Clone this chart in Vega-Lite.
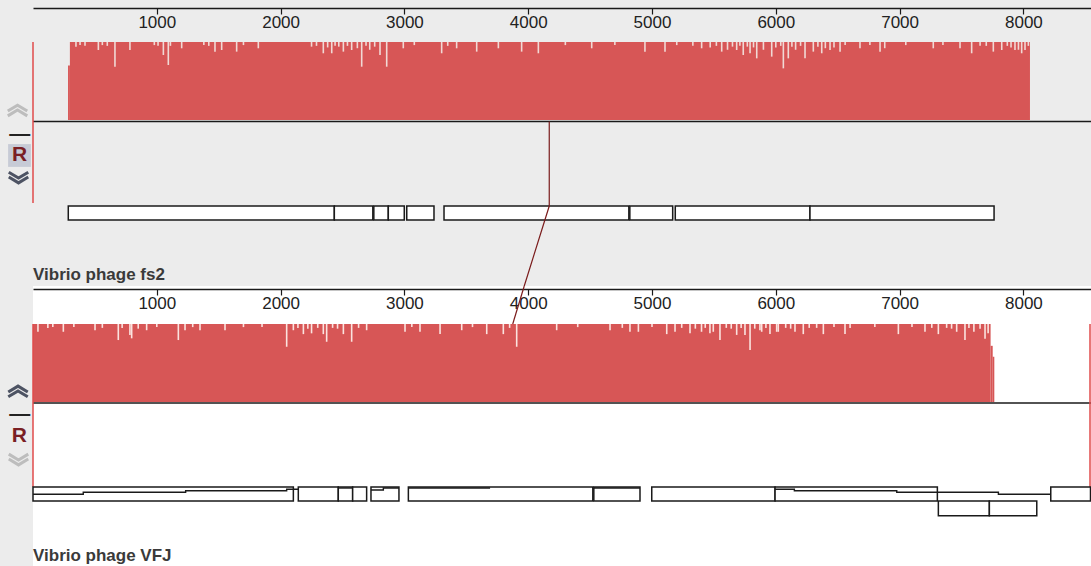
{
  "$schema": "https://vega.github.io/schema/vega-lite/v6.json",
  "padding": 0,
  "background": "#ececec",
  "spacing": 0,
  "bounds": "flush",
  "config": {"view": {"stroke": null}, "axis": {"grid": false}, "legend": {"disable": true}},
  "datasets": {
    "tracks": [
      {"genome": "fs2", "name": "Vibrio phage fs2", "origin": 0, "top": 1, "base": 0, "centre": -0.02, "fwdTop": -1.103, "fwdBottom": -1.282, "revBottom": -1.461, "lcbBottom": -1.064, "label": -2.05},
      {"genome": "VFJ", "name": "Vibrio phage VFJ", "origin": 0, "top": 1, "base": 0, "centre": -0.013, "fwdTop": -1.09, "fwdBottom": -1.269, "revBottom": -1.458, "lcbBottom": -1.09, "label": -2.04}
    ],
    "strip": [{"region": "controls", "from": -266.5, "to": 0}],
    "profile": [
      {"genome": "fs2", "start": 283, "end": 298, "sim": 0.70},
      {"genome": "fs2", "start": 298, "end": 8053, "sim": 1.0},
      {"genome": "VFJ", "start": 0, "end": 7735, "sim": 1.0},
      {"genome": "VFJ", "start": 7735, "end": 7752, "sim": 0.72},
      {"genome": "VFJ", "start": 7752, "end": 7765, "sim": 0.58}
    ],
    "dips": [
      {"genome": "fs2", "pos": 347, "sim": 0.94}, {"genome": "fs2", "pos": 380, "sim": 0.96},
      {"genome": "fs2", "pos": 420, "sim": 0.95}, {"genome": "fs2", "pos": 528, "sim": 0.897},
      {"genome": "fs2", "pos": 560, "sim": 0.96}, {"genome": "fs2", "pos": 600, "sim": 0.95},
      {"genome": "fs2", "pos": 662, "sim": 0.683}, {"genome": "fs2", "pos": 783, "sim": 0.897},
      {"genome": "fs2", "pos": 980, "sim": 0.96}, {"genome": "fs2", "pos": 1010, "sim": 0.95},
      {"genome": "fs2", "pos": 1053, "sim": 0.833}, {"genome": "fs2", "pos": 1093, "sim": 0.705},
      {"genome": "fs2", "pos": 1110, "sim": 0.95}, {"genome": "fs2", "pos": 1201, "sim": 0.919},
      {"genome": "fs2", "pos": 1380, "sim": 0.96}, {"genome": "fs2", "pos": 1420, "sim": 0.95},
      {"genome": "fs2", "pos": 1470, "sim": 0.876}, {"genome": "fs2", "pos": 1524, "sim": 0.897},
      {"genome": "fs2", "pos": 1645, "sim": 0.876}, {"genome": "fs2", "pos": 1700, "sim": 0.96},
      {"genome": "fs2", "pos": 1820, "sim": 0.919}, {"genome": "fs2", "pos": 2250, "sim": 0.94},
      {"genome": "fs2", "pos": 2290, "sim": 0.95}, {"genome": "fs2", "pos": 2345, "sim": 0.855},
      {"genome": "fs2", "pos": 2380, "sim": 0.93}, {"genome": "fs2", "pos": 2413, "sim": 0.855},
      {"genome": "fs2", "pos": 2440, "sim": 0.95}, {"genome": "fs2", "pos": 2470, "sim": 0.94},
      {"genome": "fs2", "pos": 2507, "sim": 0.876}, {"genome": "fs2", "pos": 2540, "sim": 0.95},
      {"genome": "fs2", "pos": 2574, "sim": 0.897}, {"genome": "fs2", "pos": 2620, "sim": 0.92},
      {"genome": "fs2", "pos": 2655, "sim": 0.683}, {"genome": "fs2", "pos": 2690, "sim": 0.95},
      {"genome": "fs2", "pos": 2720, "sim": 0.90}, {"genome": "fs2", "pos": 2760, "sim": 0.94},
      {"genome": "fs2", "pos": 2803, "sim": 0.833}, {"genome": "fs2", "pos": 2857, "sim": 0.683},
      {"genome": "fs2", "pos": 2991, "sim": 0.919}, {"genome": "fs2", "pos": 3080, "sim": 0.96},
      {"genome": "fs2", "pos": 3301, "sim": 0.855}, {"genome": "fs2", "pos": 3350, "sim": 0.95},
      {"genome": "fs2", "pos": 3422, "sim": 0.919}, {"genome": "fs2", "pos": 3584, "sim": 0.876},
      {"genome": "fs2", "pos": 3759, "sim": 0.919}, {"genome": "fs2", "pos": 3947, "sim": 0.876},
      {"genome": "fs2", "pos": 4082, "sim": 0.855}, {"genome": "fs2", "pos": 4300, "sim": 0.96},
      {"genome": "fs2", "pos": 4513, "sim": 0.919}, {"genome": "fs2", "pos": 4700, "sim": 0.96},
      {"genome": "fs2", "pos": 4943, "sim": 0.876}, {"genome": "fs2", "pos": 5105, "sim": 0.876},
      {"genome": "fs2", "pos": 5200, "sim": 0.96}, {"genome": "fs2", "pos": 5330, "sim": 0.95},
      {"genome": "fs2", "pos": 5401, "sim": 0.919}, {"genome": "fs2", "pos": 5470, "sim": 0.93},
      {"genome": "fs2", "pos": 5520, "sim": 0.95}, {"genome": "fs2", "pos": 5563, "sim": 0.876},
      {"genome": "fs2", "pos": 5610, "sim": 0.90}, {"genome": "fs2", "pos": 5650, "sim": 0.94},
      {"genome": "fs2", "pos": 5684, "sim": 0.897}, {"genome": "fs2", "pos": 5710, "sim": 0.95},
      {"genome": "fs2", "pos": 5737, "sim": 0.833}, {"genome": "fs2", "pos": 5770, "sim": 0.94},
      {"genome": "fs2", "pos": 5792, "sim": 0.855}, {"genome": "fs2", "pos": 5820, "sim": 0.93},
      {"genome": "fs2", "pos": 5846, "sim": 0.79}, {"genome": "fs2", "pos": 5900, "sim": 0.90},
      {"genome": "fs2", "pos": 5967, "sim": 0.812}, {"genome": "fs2", "pos": 6000, "sim": 0.93},
      {"genome": "fs2", "pos": 6040, "sim": 0.95}, {"genome": "fs2", "pos": 6061, "sim": 0.662},
      {"genome": "fs2", "pos": 6101, "sim": 0.79}, {"genome": "fs2", "pos": 6130, "sim": 0.94},
      {"genome": "fs2", "pos": 6160, "sim": 0.90}, {"genome": "fs2", "pos": 6200, "sim": 0.95},
      {"genome": "fs2", "pos": 6236, "sim": 0.79}, {"genome": "fs2", "pos": 6303, "sim": 0.876},
      {"genome": "fs2", "pos": 6340, "sim": 0.94}, {"genome": "fs2", "pos": 6371, "sim": 0.855},
      {"genome": "fs2", "pos": 6400, "sim": 0.92}, {"genome": "fs2", "pos": 6438, "sim": 0.897},
      {"genome": "fs2", "pos": 6470, "sim": 0.93}, {"genome": "fs2", "pos": 6519, "sim": 0.876},
      {"genome": "fs2", "pos": 6560, "sim": 0.96}, {"genome": "fs2", "pos": 6680, "sim": 0.919},
      {"genome": "fs2", "pos": 6760, "sim": 0.96}, {"genome": "fs2", "pos": 6842, "sim": 0.876},
      {"genome": "fs2", "pos": 6880, "sim": 0.92}, {"genome": "fs2", "pos": 7050, "sim": 0.96},
      {"genome": "fs2", "pos": 7272, "sim": 0.919}, {"genome": "fs2", "pos": 7350, "sim": 0.96},
      {"genome": "fs2", "pos": 7488, "sim": 0.919}, {"genome": "fs2", "pos": 7582, "sim": 0.855},
      {"genome": "fs2", "pos": 7650, "sim": 0.95}, {"genome": "fs2", "pos": 7700, "sim": 0.95},
      {"genome": "fs2", "pos": 7757, "sim": 0.876}, {"genome": "fs2", "pos": 7825, "sim": 0.897},
      {"genome": "fs2", "pos": 7870, "sim": 0.95}, {"genome": "fs2", "pos": 7900, "sim": 0.93},
      {"genome": "fs2", "pos": 7932, "sim": 0.897}, {"genome": "fs2", "pos": 7960, "sim": 0.90},
      {"genome": "fs2", "pos": 7986, "sim": 0.855}, {"genome": "fs2", "pos": 8013, "sim": 0.897},
      {"genome": "fs2", "pos": 8040, "sim": 0.95},
      {"genome": "VFJ", "pos": 40, "sim": 0.90}, {"genome": "VFJ", "pos": 120, "sim": 0.95},
      {"genome": "VFJ", "pos": 160, "sim": 0.96}, {"genome": "VFJ", "pos": 245, "sim": 0.90},
      {"genome": "VFJ", "pos": 330, "sim": 0.96}, {"genome": "VFJ", "pos": 501, "sim": 0.92},
      {"genome": "VFJ", "pos": 560, "sim": 0.95}, {"genome": "VFJ", "pos": 689, "sim": 0.794},
      {"genome": "VFJ", "pos": 720, "sim": 0.95}, {"genome": "VFJ", "pos": 783, "sim": 0.86},
      {"genome": "VFJ", "pos": 797, "sim": 0.816}, {"genome": "VFJ", "pos": 850, "sim": 0.94},
      {"genome": "VFJ", "pos": 918, "sim": 0.92}, {"genome": "VFJ", "pos": 1000, "sim": 0.96},
      {"genome": "VFJ", "pos": 1174, "sim": 0.794}, {"genome": "VFJ", "pos": 1228, "sim": 0.92},
      {"genome": "VFJ", "pos": 1290, "sim": 0.96}, {"genome": "VFJ", "pos": 1349, "sim": 0.92},
      {"genome": "VFJ", "pos": 1551, "sim": 0.92}, {"genome": "VFJ", "pos": 1700, "sim": 0.96},
      {"genome": "VFJ", "pos": 1850, "sim": 0.96}, {"genome": "VFJ", "pos": 2049, "sim": 0.708},
      {"genome": "VFJ", "pos": 2103, "sim": 0.92}, {"genome": "VFJ", "pos": 2140, "sim": 0.95},
      {"genome": "VFJ", "pos": 2184, "sim": 0.87}, {"genome": "VFJ", "pos": 2220, "sim": 0.94},
      {"genome": "VFJ", "pos": 2250, "sim": 0.88}, {"genome": "VFJ", "pos": 2300, "sim": 0.95},
      {"genome": "VFJ", "pos": 2345, "sim": 0.87}, {"genome": "VFJ", "pos": 2372, "sim": 0.772},
      {"genome": "VFJ", "pos": 2420, "sim": 0.95}, {"genome": "VFJ", "pos": 2460, "sim": 0.94},
      {"genome": "VFJ", "pos": 2507, "sim": 0.87}, {"genome": "VFJ", "pos": 2574, "sim": 0.772},
      {"genome": "VFJ", "pos": 2630, "sim": 0.95}, {"genome": "VFJ", "pos": 2695, "sim": 0.92},
      {"genome": "VFJ", "pos": 3005, "sim": 0.90}, {"genome": "VFJ", "pos": 3060, "sim": 0.96},
      {"genome": "VFJ", "pos": 3126, "sim": 0.90}, {"genome": "VFJ", "pos": 3288, "sim": 0.87},
      {"genome": "VFJ", "pos": 3463, "sim": 0.92}, {"genome": "VFJ", "pos": 3550, "sim": 0.96},
      {"genome": "VFJ", "pos": 3665, "sim": 0.87}, {"genome": "VFJ", "pos": 3799, "sim": 0.87},
      {"genome": "VFJ", "pos": 3850, "sim": 0.95}, {"genome": "VFJ", "pos": 3907, "sim": 0.708},
      {"genome": "VFJ", "pos": 4230, "sim": 0.92}, {"genome": "VFJ", "pos": 4400, "sim": 0.96},
      {"genome": "VFJ", "pos": 4661, "sim": 0.92}, {"genome": "VFJ", "pos": 4760, "sim": 0.95},
      {"genome": "VFJ", "pos": 4822, "sim": 0.90}, {"genome": "VFJ", "pos": 4890, "sim": 0.90},
      {"genome": "VFJ", "pos": 5000, "sim": 0.96}, {"genome": "VFJ", "pos": 5119, "sim": 0.87},
      {"genome": "VFJ", "pos": 5186, "sim": 0.90}, {"genome": "VFJ", "pos": 5240, "sim": 0.95},
      {"genome": "VFJ", "pos": 5307, "sim": 0.88}, {"genome": "VFJ", "pos": 5350, "sim": 0.94},
      {"genome": "VFJ", "pos": 5400, "sim": 0.90}, {"genome": "VFJ", "pos": 5430, "sim": 0.95},
      {"genome": "VFJ", "pos": 5468, "sim": 0.88}, {"genome": "VFJ", "pos": 5495, "sim": 0.90},
      {"genome": "VFJ", "pos": 5549, "sim": 0.794}, {"genome": "VFJ", "pos": 5600, "sim": 0.95},
      {"genome": "VFJ", "pos": 5640, "sim": 0.94}, {"genome": "VFJ", "pos": 5684, "sim": 0.86},
      {"genome": "VFJ", "pos": 5720, "sim": 0.95}, {"genome": "VFJ", "pos": 5751, "sim": 0.86},
      {"genome": "VFJ", "pos": 5792, "sim": 0.665}, {"genome": "VFJ", "pos": 5830, "sim": 0.94},
      {"genome": "VFJ", "pos": 5872, "sim": 0.92}, {"genome": "VFJ", "pos": 5886, "sim": 0.90},
      {"genome": "VFJ", "pos": 5920, "sim": 0.95}, {"genome": "VFJ", "pos": 5953, "sim": 0.87},
      {"genome": "VFJ", "pos": 6007, "sim": 0.90}, {"genome": "VFJ", "pos": 6020, "sim": 0.90},
      {"genome": "VFJ", "pos": 6080, "sim": 0.95}, {"genome": "VFJ", "pos": 6120, "sim": 0.94},
      {"genome": "VFJ", "pos": 6155, "sim": 0.90}, {"genome": "VFJ", "pos": 6222, "sim": 0.87},
      {"genome": "VFJ", "pos": 6270, "sim": 0.95}, {"genome": "VFJ", "pos": 6330, "sim": 0.95},
      {"genome": "VFJ", "pos": 6384, "sim": 0.87}, {"genome": "VFJ", "pos": 6470, "sim": 0.96},
      {"genome": "VFJ", "pos": 6559, "sim": 0.87}, {"genome": "VFJ", "pos": 6600, "sim": 0.95},
      {"genome": "VFJ", "pos": 6800, "sim": 0.96}, {"genome": "VFJ", "pos": 6990, "sim": 0.87},
      {"genome": "VFJ", "pos": 7100, "sim": 0.96}, {"genome": "VFJ", "pos": 7205, "sim": 0.90},
      {"genome": "VFJ", "pos": 7260, "sim": 0.95}, {"genome": "VFJ", "pos": 7313, "sim": 0.87},
      {"genome": "VFJ", "pos": 7380, "sim": 0.95}, {"genome": "VFJ", "pos": 7420, "sim": 0.94},
      {"genome": "VFJ", "pos": 7461, "sim": 0.90}, {"genome": "VFJ", "pos": 7528, "sim": 0.794},
      {"genome": "VFJ", "pos": 7560, "sim": 0.95}, {"genome": "VFJ", "pos": 7600, "sim": 0.90},
      {"genome": "VFJ", "pos": 7650, "sim": 0.94}, {"genome": "VFJ", "pos": 7690, "sim": 0.81},
      {"genome": "VFJ", "pos": 7715, "sim": 0.88}
    ],
    "features": [
      {"genome": "fs2", "strand": "+", "start": 285, "end": 2434},
      {"genome": "fs2", "strand": "+", "start": 2434, "end": 2745},
      {"genome": "fs2", "strand": "+", "start": 2753, "end": 2870},
      {"genome": "fs2", "strand": "+", "start": 2870, "end": 2999},
      {"genome": "fs2", "strand": "+", "start": 3019, "end": 3239},
      {"genome": "fs2", "strand": "+", "start": 3320, "end": 4813},
      {"genome": "fs2", "strand": "+", "start": 4821, "end": 5167},
      {"genome": "fs2", "strand": "+", "start": 5188, "end": 6276},
      {"genome": "fs2", "strand": "+", "start": 6276, "end": 7763},
      {"genome": "VFJ", "strand": "+", "start": 0, "end": 2103},
      {"genome": "VFJ", "strand": "+", "start": 2143, "end": 2466},
      {"genome": "VFJ", "strand": "+", "start": 2466, "end": 2582},
      {"genome": "VFJ", "strand": "+", "start": 2582, "end": 2695},
      {"genome": "VFJ", "strand": "+", "start": 2730, "end": 2956},
      {"genome": "VFJ", "strand": "+", "start": 3032, "end": 4522},
      {"genome": "VFJ", "strand": "+", "start": 4530, "end": 4903},
      {"genome": "VFJ", "strand": "+", "start": 4998, "end": 5994},
      {"genome": "VFJ", "strand": "+", "start": 5994, "end": 7305},
      {"genome": "VFJ", "strand": "+", "start": 8221, "end": 8542},
      {"genome": "VFJ", "strand": "-", "start": 7313, "end": 7725},
      {"genome": "VFJ", "strand": "-", "start": 7725, "end": 8108}
    ],
    "inner": [
      {"seg": "a", "pos": 0, "level": -1.183}, {"seg": "a", "pos": 406, "level": -1.158},
      {"seg": "a", "pos": 1233, "level": -1.138}, {"seg": "a", "pos": 2049, "level": -1.119},
      {"seg": "a", "pos": 2143, "level": -1.119},
      {"seg": "c", "pos": 2466, "level": -1.103}, {"seg": "c", "pos": 2582, "level": -1.103},
      {"seg": "e", "pos": 2730, "level": -1.128}, {"seg": "e", "pos": 2830, "level": -1.103},
      {"seg": "e", "pos": 2956, "level": -1.103},
      {"seg": "f", "pos": 3032, "level": -1.103}, {"seg": "f", "pos": 3692, "level": -1.103},
      {"seg": "g", "pos": 4530, "level": -1.103}, {"seg": "g", "pos": 4903, "level": -1.103},
      {"seg": "i", "pos": 5994, "level": -1.119}, {"seg": "i", "pos": 6150, "level": -1.138},
      {"seg": "i", "pos": 6977, "level": -1.158}, {"seg": "i", "pos": 7798, "level": -1.183},
      {"seg": "i", "pos": 8221, "level": -1.183}
    ],
    "lcb": [
      {"genome": "fs2", "pos": 0},
      {"genome": "VFJ", "pos": 0},
      {"genome": "VFJ", "pos": 8538}
    ],
    "connector": [
      {"genome": "fs2", "step": 1, "pos": 4170, "level": -0.02},
      {"genome": "fs2", "step": 2, "pos": 4170, "level": -1.103},
      {"genome": "fs2", "step": 3, "pos": 3968, "level": -2.128},
      {"genome": "VFJ", "step": 1, "pos": 3968, "level": 1.487},
      {"genome": "VFJ", "step": 2, "pos": 3875, "level": 1.0}
    ],
    "chevrons": [
      {"genome": "fs2", "glyph": "up", "state": "disabled", "pos": -125, "level": 0.128},
      {"genome": "fs2", "glyph": "down", "state": "enabled", "pos": -117, "level": -0.744},
      {"genome": "VFJ", "glyph": "up", "state": "enabled", "pos": -121, "level": 0.141},
      {"genome": "VFJ", "glyph": "down", "state": "disabled", "pos": -117, "level": -0.744}
    ],
    "buttons": [
      {"genome": "fs2", "button": "minus", "glyph": "—", "pos": -107, "level": -0.179},
      {"genome": "fs2", "button": "reference", "glyph": "R", "pos": -109, "level": -0.455, "selected": true},
      {"genome": "VFJ", "button": "minus", "glyph": "—", "pos": -107, "level": -0.158},
      {"genome": "VFJ", "button": "reference", "glyph": "R", "pos": -111, "level": -0.442, "selected": false}
    ]
  },
  "vconcat": [
    {
      "width": 1058,
      "height": 286,
      "layer": [
        {
          "data": {"name": "strip"},
          "mark": {"type": "rect", "color": "#ececec"},
          "encoding": {
            "x": {"field": "from", "type": "quantitative", "title": null, "scale": {"domain": [0, 8546], "nice": false, "zero": false}},
            "x2": {"field": "to"}
          }
        },
        {
          "data": {"name": "profile"},
          "transform": [
            {"filter": "datum.genome === 'fs2'"},
            {"lookup": "genome", "from": {"data": {"name": "tracks"}, "key": "genome", "fields": ["base"]}}
          ],
          "mark": {"type": "rect", "color": "#d75656"},
          "encoding": {
            "x": {"field": "start", "type": "quantitative", "title": null, "scale": {"domain": [0, 8546], "nice": false, "zero": false},
              "axis": {"orient": "bottom", "offset": -278, "values": [1000, 2000, 3000, 4000, 5000, 6000, 7000, 8000], "format": "d", "grid": false,
                "domainColor": "#1a1a1a", "domainWidth": 1.6, "tickColor": "#1a1a1a", "tickSize": 6, "tickWidth": 1.2,
                "labelFont": "Liberation Sans", "labelFontSize": 17, "labelColor": "#222222", "labelPadding": 0, "labelFlush": false, "labelOverlap": false}},
            "x2": {"field": "end"},
            "y": {"field": "sim", "type": "quantitative", "scale": {"domain": [-2.128, 1.538], "nice": false, "zero": false}, "axis": null},
            "y2": {"field": "base"}
          }
        },
        {
          "data": {"name": "dips"},
          "transform": [
            {"filter": "datum.genome === 'fs2'"},
            {"lookup": "genome", "from": {"data": {"name": "tracks"}, "key": "genome", "fields": ["top"]}}
          ],
          "mark": {"type": "rule", "color": "#f1d9d5", "strokeWidth": 1.6},
          "encoding": {
            "x": {"field": "pos", "type": "quantitative", "title": null},
            "y": {"field": "top", "type": "quantitative"},
            "y2": {"field": "sim"}
          }
        },
        {
          "data": {"name": "tracks"},
          "transform": [{"filter": "datum.genome === 'fs2'"}],
          "mark": {"type": "rule", "color": "#1a1a1a", "strokeWidth": 1.6},
          "encoding": {
            "y": {"field": "centre", "type": "quantitative"}
          }
        },
        {
          "data": {"name": "lcb"},
          "transform": [
            {"filter": "datum.genome === 'fs2'"},
            {"lookup": "genome", "from": {"data": {"name": "tracks"}, "key": "genome", "fields": ["top", "lcbBottom"]}}
          ],
          "mark": {"type": "rule", "color": "#e04b4b", "strokeWidth": 1.5},
          "encoding": {
            "x": {"field": "pos", "type": "quantitative", "title": null},
            "y": {"field": "top", "type": "quantitative"},
            "y2": {"field": "lcbBottom"}
          }
        },
        {
          "data": {"name": "features"},
          "transform": [
            {"filter": "datum.genome === 'fs2'"},
            {"lookup": "genome", "from": {"data": {"name": "tracks"}, "key": "genome", "fields": ["fwdTop", "fwdBottom"]}}
          ],
          "mark": {"type": "rect", "fill": "#ffffff", "stroke": "#1a1a1a", "strokeWidth": 1.5},
          "encoding": {
            "x": {"field": "start", "type": "quantitative", "title": null},
            "x2": {"field": "end"},
            "y": {"field": "fwdTop", "type": "quantitative"},
            "y2": {"field": "fwdBottom"}
          }
        },
        {
          "data": {"name": "connector"},
          "transform": [{"filter": "datum.genome === 'fs2'"}],
          "mark": {"type": "line", "color": "#7b1c1c", "strokeWidth": 1.2},
          "encoding": {
            "x": {"field": "pos", "type": "quantitative", "title": null},
            "y": {"field": "level", "type": "quantitative"},
            "order": {"field": "step", "type": "quantitative"}
          }
        },
        {
          "data": {"name": "tracks"},
          "transform": [{"filter": "datum.genome === 'fs2'"}],
          "mark": {"type": "text", "align": "left", "baseline": "alphabetic", "font": "Liberation Sans", "fontWeight": "bold", "fontSize": 17, "color": "#3a3a3a"},
          "encoding": {
            "x": {"field": "origin", "type": "quantitative", "title": null},
            "y": {"field": "label", "type": "quantitative"},
            "text": {"field": "name", "type": "nominal"}
          }
        },
        {
          "data": {"name": "buttons"},
          "transform": [{"filter": "datum.genome === 'fs2' && datum.selected === true"}],
          "mark": {"type": "point", "shape": "square", "filled": true, "color": "#c7cbd6", "size": 520, "opacity": 1},
          "encoding": {
            "x": {"field": "pos", "type": "quantitative", "title": null},
            "y": {"field": "level", "type": "quantitative"}
          }
        },
        {
          "data": {"name": "buttons"},
          "transform": [{"filter": "datum.genome === 'fs2'"}],
          "mark": {"type": "text", "align": "center", "baseline": "middle", "font": "Liberation Sans", "fontWeight": "bold", "fontSize": 21},
          "encoding": {
            "x": {"field": "pos", "type": "quantitative", "title": null},
            "y": {"field": "level", "type": "quantitative"},
            "text": {"field": "glyph", "type": "nominal"},
            "color": {"field": "button", "type": "nominal", "scale": {"domain": ["minus", "reference"], "range": ["#222222", "#7a1f24"]}, "legend": null}
          }
        },
        {
          "data": {"name": "chevrons"},
          "transform": [{"filter": "datum.genome === 'fs2'"}],
          "mark": {"type": "point", "filled": false, "strokeWidth": 3, "size": 380, "opacity": 1},
          "encoding": {
            "x": {"field": "pos", "type": "quantitative", "title": null},
            "y": {"field": "level", "type": "quantitative"},
            "shape": {"field": "glyph", "type": "nominal", "scale": {"domain": ["up", "down"], "range": ["M-1,0.1L0,-0.5L1,0.1M-1,0.6L0,0L1,0.6", "M-1,-0.6L0,0L1,-0.6M-1,-0.1L0,0.5L1,-0.1"]}, "legend": null},
            "stroke": {"field": "state", "type": "nominal", "scale": {"domain": ["enabled", "disabled"], "range": ["#4d5363", "#bdbdbd"]}, "legend": null}
          }
        }
      ]
    },
    {
      "width": 1058,
      "height": 280,
      "view": {"fill": "#ffffff", "stroke": null},
      "layer": [
        {
          "data": {"name": "profile"},
          "transform": [
            {"filter": "datum.genome === 'VFJ'"},
            {"lookup": "genome", "from": {"data": {"name": "tracks"}, "key": "genome", "fields": ["base"]}}
          ],
          "mark": {"type": "rect", "color": "#d75656"},
          "encoding": {
            "x": {"field": "start", "type": "quantitative", "title": null, "scale": {"domain": [0, 8546], "nice": false, "zero": false},
              "axis": {"orient": "bottom", "offset": -277, "values": [1000, 2000, 3000, 4000, 5000, 6000, 7000, 8000], "format": "d", "grid": false,
                "domainColor": "#1a1a1a", "domainWidth": 1.6, "tickColor": "#1a1a1a", "tickSize": 6, "tickWidth": 1.2,
                "labelFont": "Liberation Sans", "labelFontSize": 17, "labelColor": "#222222", "labelPadding": 0, "labelFlush": false, "labelOverlap": false}},
            "x2": {"field": "end"},
            "y": {"field": "sim", "type": "quantitative", "scale": {"domain": [-2.103, 1.487], "nice": false, "zero": false}, "axis": null},
            "y2": {"field": "base"}
          }
        },
        {
          "data": {"name": "dips"},
          "transform": [
            {"filter": "datum.genome === 'VFJ'"},
            {"lookup": "genome", "from": {"data": {"name": "tracks"}, "key": "genome", "fields": ["top"]}}
          ],
          "mark": {"type": "rule", "color": "#fbe3df", "strokeWidth": 1.6},
          "encoding": {
            "x": {"field": "pos", "type": "quantitative", "title": null},
            "y": {"field": "top", "type": "quantitative"},
            "y2": {"field": "sim"}
          }
        },
        {
          "data": {"name": "tracks"},
          "transform": [{"filter": "datum.genome === 'VFJ'"}],
          "mark": {"type": "rule", "color": "#1a1a1a", "strokeWidth": 1.6},
          "encoding": {
            "y": {"field": "centre", "type": "quantitative"}
          }
        },
        {
          "data": {"name": "lcb"},
          "transform": [
            {"filter": "datum.genome === 'VFJ'"},
            {"lookup": "genome", "from": {"data": {"name": "tracks"}, "key": "genome", "fields": ["top", "lcbBottom"]}}
          ],
          "mark": {"type": "rule", "color": "#e04b4b", "strokeWidth": 1.5},
          "encoding": {
            "x": {"field": "pos", "type": "quantitative", "title": null},
            "y": {"field": "top", "type": "quantitative"},
            "y2": {"field": "lcbBottom"}
          }
        },
        {
          "data": {"name": "features"},
          "transform": [
            {"filter": "datum.genome === 'VFJ' && datum.strand === '+'"},
            {"lookup": "genome", "from": {"data": {"name": "tracks"}, "key": "genome", "fields": ["fwdTop", "fwdBottom"]}}
          ],
          "mark": {"type": "rect", "fill": "#ffffff", "stroke": "#1a1a1a", "strokeWidth": 1.5},
          "encoding": {
            "x": {"field": "start", "type": "quantitative", "title": null},
            "x2": {"field": "end"},
            "y": {"field": "fwdTop", "type": "quantitative"},
            "y2": {"field": "fwdBottom"}
          }
        },
        {
          "data": {"name": "features"},
          "transform": [
            {"filter": "datum.genome === 'VFJ' && datum.strand === '-'"},
            {"lookup": "genome", "from": {"data": {"name": "tracks"}, "key": "genome", "fields": ["fwdBottom", "revBottom"]}}
          ],
          "mark": {"type": "rect", "fill": "#ffffff", "stroke": "#1a1a1a", "strokeWidth": 1.5},
          "encoding": {
            "x": {"field": "start", "type": "quantitative", "title": null},
            "x2": {"field": "end"},
            "y": {"field": "fwdBottom", "type": "quantitative"},
            "y2": {"field": "revBottom"}
          }
        },
        {
          "data": {"name": "inner"},
          "mark": {"type": "line", "interpolate": "step-after", "color": "#1a1a1a", "strokeWidth": 1.4},
          "encoding": {
            "x": {"field": "pos", "type": "quantitative", "title": null},
            "y": {"field": "level", "type": "quantitative"},
            "detail": {"field": "seg", "type": "nominal"}
          }
        },
        {
          "data": {"name": "connector"},
          "transform": [{"filter": "datum.genome === 'VFJ'"}],
          "mark": {"type": "line", "color": "#7b1c1c", "strokeWidth": 1.2},
          "encoding": {
            "x": {"field": "pos", "type": "quantitative", "title": null},
            "y": {"field": "level", "type": "quantitative"},
            "order": {"field": "step", "type": "quantitative"}
          }
        },
        {
          "data": {"name": "tracks"},
          "transform": [{"filter": "datum.genome === 'VFJ'"}],
          "mark": {"type": "text", "align": "left", "baseline": "alphabetic", "font": "Liberation Sans", "fontWeight": "bold", "fontSize": 17, "color": "#3a3a3a"},
          "encoding": {
            "x": {"field": "origin", "type": "quantitative", "title": null},
            "y": {"field": "label", "type": "quantitative"},
            "text": {"field": "name", "type": "nominal"}
          }
        },
        {
          "data": {"name": "buttons"},
          "transform": [{"filter": "datum.genome === 'VFJ'"}],
          "mark": {"type": "text", "align": "center", "baseline": "middle", "font": "Liberation Sans", "fontWeight": "bold", "fontSize": 21},
          "encoding": {
            "x": {"field": "pos", "type": "quantitative", "title": null},
            "y": {"field": "level", "type": "quantitative"},
            "text": {"field": "glyph", "type": "nominal"},
            "color": {"field": "button", "type": "nominal", "scale": {"domain": ["minus", "reference"], "range": ["#222222", "#8b2b1b"]}, "legend": null}
          }
        },
        {
          "data": {"name": "chevrons"},
          "transform": [{"filter": "datum.genome === 'VFJ'"}],
          "mark": {"type": "point", "filled": false, "strokeWidth": 3, "size": 380, "opacity": 1},
          "encoding": {
            "x": {"field": "pos", "type": "quantitative", "title": null},
            "y": {"field": "level", "type": "quantitative"},
            "shape": {"field": "glyph", "type": "nominal", "scale": {"domain": ["up", "down"], "range": ["M-1,0.1L0,-0.5L1,0.1M-1,0.6L0,0L1,0.6", "M-1,-0.6L0,0L1,-0.6M-1,-0.1L0,0.5L1,-0.1"]}, "legend": null},
            "stroke": {"field": "state", "type": "nominal", "scale": {"domain": ["enabled", "disabled"], "range": ["#4d5363", "#bcc0c6"]}, "legend": null}
          }
        }
      ]
    }
  ]
}
